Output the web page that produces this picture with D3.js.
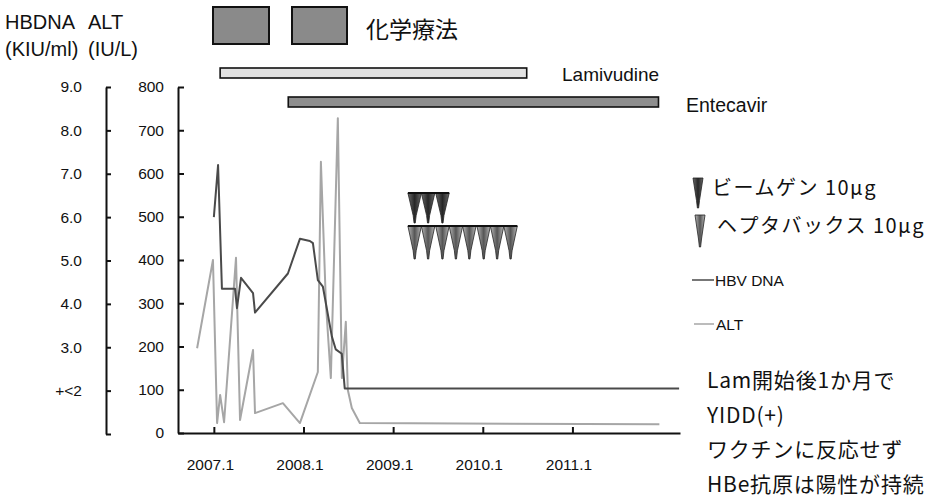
<!DOCTYPE html>
<html>
<head>
<meta charset="utf-8">
<script src="https://cdn.jsdelivr.net/npm/d3@7/dist/d3.min.js"></script>
<style>
  html, body { margin: 0; padding: 0; background: #fff; }
  svg { display: block; }
  text { font-family: Arial, "Liberation Sans", "Noto Sans CJK JP", sans-serif; fill: #111; }
  .jp { font-family: "Noto Sans CJK JP", Arial, "Liberation Sans", sans-serif; }
</style>
</head>
<body>
<svg id="chart" width="947" height="504"></svg>
<script>
// ---------------- data ----------------
// dates as decimal years (2007.0 = "2007.1")
const dnaDates  = [2007.00, 2007.047, 2007.09, 2007.236, 2007.258, 2007.303, 2007.437, 2007.459,
                   2007.826, 2007.96, 2008.071, 2008.105, 2008.16, 2008.216, 2008.316, 2008.36,
                   2008.427, 2008.46, 2012.19];
const dnaValues = [6.0, 7.2, 4.35, 4.35, 3.9, 4.6, 4.25, 3.8,
                   4.7, 5.5, 5.45, 5.4, 4.55, 4.4, 3.25, 2.95,
                   2.85, 2.05, 2.05];

const altDates  = [2006.813, 2006.99, 2007.036, 2007.07, 2007.114, 2007.247, 2007.292, 2007.437,
                   2007.459, 2007.77, 2007.96, 2008.16, 2008.194, 2008.25, 2008.305, 2008.383,
                   2008.428, 2008.472, 2008.494, 2008.539, 2008.628, 2011.97];
const altValues = [196, 400, 23, 88, 25, 405, 30, 192,
                   46, 69, 23, 141, 627, 300, 127, 728,
                   127, 257, 100, 58, 23, 20];

const xTickValues = [2007, 2008, 2009, 2010, 2011];
const xTickLabels = ["2007.1", "2008.1", "2009.1", "2010.1", "2011.1"];
const dnaTickValues = [9, 8, 7, 6, 5, 4, 3, 2];
const dnaTickLabels = ["9.0", "8.0", "7.0", "6.0", "5.0", "4.0", "3.0", "+<2"];
const altTickValues = [0, 100, 200, 300, 400, 500, 600, 700, 800];

const drugNames  = ["Lamivudine", "Entecavir"];
const drugStarts = [2007.07, 2007.83];
const drugEnds   = [2010.49, 2011.96];

const beemgenDates   = [2009.24, 2009.39, 2009.55];
const heptavaxDates  = [2009.24, 2009.39, 2009.55, 2009.70, 2009.85, 2010.01, 2010.16, 2010.31];

const noteLines = ["Lam開始後1か月で", "YIDD(+)", "ワクチンに反応せず", "HBe抗原は陽性が持続"];

// ---------------- drawing ----------------
const svg = d3.select("#chart");
const W = 947, H = 504;
svg.append("rect").attr("width", W).attr("height", H).attr("fill", "#fff");

const x = d3.scaleLinear().domain([2006.6, 2012.2]).range([178, 680]);
const yAlt = d3.scaleLinear().domain([0, 800]).range([433, 87]);
const yDna = d3.scaleLinear().domain([1, 9]).range([434, 87]);

const defs = svg.append("defs");
function grad(id, edge, mid) {
  const g = defs.append("linearGradient").attr("id", id).attr("x1", 0).attr("x2", 1).attr("y1", 0).attr("y2", 0);
  g.append("stop").attr("offset", "0%").attr("stop-color", edge);
  g.append("stop").attr("offset", "50%").attr("stop-color", mid);
  g.append("stop").attr("offset", "100%").attr("stop-color", edge);
}
grad("gDark", "#6a6a6a", "#262626");
grad("gLight", "#b8b8b8", "#555");

// header texts
svg.append("text").attr("x", 5).attr("y", 29).attr("font-size", 20).text("HBDNA");
svg.append("text").attr("x", 88).attr("y", 29).attr("font-size", 20).text("ALT");
svg.append("text").attr("x", 5).attr("y", 56).attr("font-size", 20).text("(KIU/ml)");
svg.append("text").attr("x", 88).attr("y", 56).attr("font-size", 20).text("(IU/L)");

// chemotherapy boxes
const chemoBoxes = [[213, 269], [292, 347]];
svg.selectAll("rect.chemo").data(chemoBoxes).join("rect").attr("class", "chemo")
  .attr("x", d => d[0]).attr("y", 7).attr("width", d => d[1] - d[0]).attr("height", 37)
  .attr("fill", "#8a8a8a").attr("stroke", "#111").attr("stroke-width", 2);
svg.append("text").attr("class", "jp").attr("x", 366).attr("y", 38).attr("font-size", 23).text("化学療法");

// drug bars
const barY = [68, 97];
const barFill = ["#e2e2e2", "#8e8e8e"];
svg.selectAll("rect.drug").data(drugNames).join("rect").attr("class", "drug")
  .attr("x", (d, i) => x(drugStarts[i])).attr("y", (d, i) => barY[i])
  .attr("width", (d, i) => x(drugEnds[i]) - x(drugStarts[i])).attr("height", 10)
  .attr("fill", (d, i) => barFill[i]).attr("stroke", "#111").attr("stroke-width", 1.6);
svg.append("text").attr("x", 562).attr("y", 81).attr("font-size", 19).text(drugNames[0]);
svg.append("text").attr("x", 686).attr("y", 112).attr("font-size", 19.5).text(drugNames[1]);

// left DNA axis
const dnaAxisX = 106;
const gDna = svg.append("g").attr("transform", `translate(${dnaAxisX},0)`);
gDna.call(d3.axisRight(yDna).tickValues([1,2,3,4,5,6,7,8,9]).tickSize(5).tickSizeOuter(0).tickFormat(""));
gDna.append("g").call(d3.axisLeft(yDna).tickValues(dnaTickValues).tickSize(0).tickPadding(24)
  .tickFormat((d, i) => dnaTickLabels[i]))
  .call(g => g.select(".domain").remove());

// ALT axis
const altAxisX = 178;
const gAlt = svg.append("g").attr("transform", `translate(${altAxisX},0)`);
gAlt.call(d3.axisRight(yAlt).tickValues(altTickValues).tickSize(6).tickSizeOuter(0).tickFormat(""));
gAlt.append("g").call(d3.axisLeft(yAlt).tickValues(altTickValues).tickSize(0).tickPadding(14)
  .tickFormat(d3.format("d")))
  .call(g => g.select(".domain").remove());

// x axis
const gX = svg.append("g").attr("transform", `translate(0,${yAlt(0)})`);
gX.call(d3.axisTop(x).tickValues(xTickValues).tickSize(6).tickSizeOuter(0).tickFormat(""));
gX.append("g").call(d3.axisBottom(x).tickValues(xTickValues).tickSize(0).tickPadding(26)
  .tickFormat((d, i) => xTickLabels[i]))
  .call(g => g.select(".domain").remove())
  .selectAll("text").attr("dx", -4);

svg.selectAll(".domain").attr("stroke", "#111").attr("stroke-width", 2);
svg.selectAll(".tick line").attr("stroke", "#111").attr("stroke-width", 2);
svg.selectAll(".tick text").attr("font-size", 15.5).attr("fill", "#111");
gX.selectAll(".tick text").attr("font-size", 15.5);

// lines
const altLine = d3.line().x((d, i) => x(altDates[i])).y(d => yAlt(d));
svg.append("path").datum(altValues).attr("d", altLine)
  .attr("fill", "none").attr("stroke", "#a6a6a6").attr("stroke-width", 2).attr("stroke-linejoin", "round");
const dnaLine = d3.line().x((d, i) => x(dnaDates[i])).y(d => yDna(d));
svg.append("path").datum(dnaValues).attr("d", dnaLine)
  .attr("fill", "none").attr("stroke", "#4a4a4a").attr("stroke-width", 2).attr("stroke-linejoin", "round");

// vaccine triangles
const triW = 13.5;
function triPath(cx, top, h, hw) {
  return `M${cx - hw},${top} L${cx + hw},${top} L${cx + 1.5},${top + h * 0.75} L${cx + 0.6},${top + h} L${cx - 0.6},${top + h} L${cx - 1.5},${top + h * 0.75} Z`;
}
function drawRow(dates, top, h, fill) {
  const g = svg.append("g");
  g.selectAll("path").data(dates).join("path")
    .attr("d", d => triPath(x(d), top, h, triW / 2))
    .attr("fill", fill).attr("stroke", "#222").attr("stroke-width", 0.8);
  g.append("line").attr("x1", x(dates[0]) - triW / 2).attr("x2", x(dates[dates.length - 1]) + triW / 2)
    .attr("y1", top).attr("y2", top).attr("stroke", "#111").attr("stroke-width", 2);
}
drawRow(beemgenDates, 193, 30, "url(#gDark)");
drawRow(heptavaxDates, 226, 33, "url(#gLight)");

// vaccine legend
svg.append("path").attr("d", triPath(698, 178, 30, 5))
  .attr("fill", "url(#gDark)").attr("stroke", "#222").attr("stroke-width", 0.8);
svg.append("path").attr("d", triPath(700, 215, 32, 5))
  .attr("fill", "url(#gLight)").attr("stroke", "#222").attr("stroke-width", 0.8);
svg.append("text").attr("class", "jp").attr("x", 712).attr("y", 195).attr("font-size", 20)
  .attr("letter-spacing", 1.5).text("ビームゲン 10μg");
svg.append("text").attr("class", "jp").attr("x", 717).attr("y", 233).attr("font-size", 20)
  .attr("letter-spacing", 1.5).text("ヘプタバックス 10μg");

// line legend
svg.append("line").attr("x1", 692).attr("x2", 714).attr("y1", 280).attr("y2", 280)
  .attr("stroke", "#4a4a4a").attr("stroke-width", 1.5);
svg.append("text").attr("x", 715).attr("y", 286).attr("font-size", 15.5).text("HBV DNA");
svg.append("line").attr("x1", 694).attr("x2", 714).attr("y1", 324).attr("y2", 324)
  .attr("stroke", "#a6a6a6").attr("stroke-width", 1.5);
svg.append("text").attr("x", 716).attr("y", 330).attr("font-size", 15.5).text("ALT");

// notes
svg.selectAll("text.note").data(noteLines).join("text").attr("class", "note jp")
  .attr("x", 707).attr("y", (d, i) => 388 + i * 34.5).attr("font-size", 21)
  .attr("letter-spacing", 0.8).text(d => d);
</script>
</body>
</html>
